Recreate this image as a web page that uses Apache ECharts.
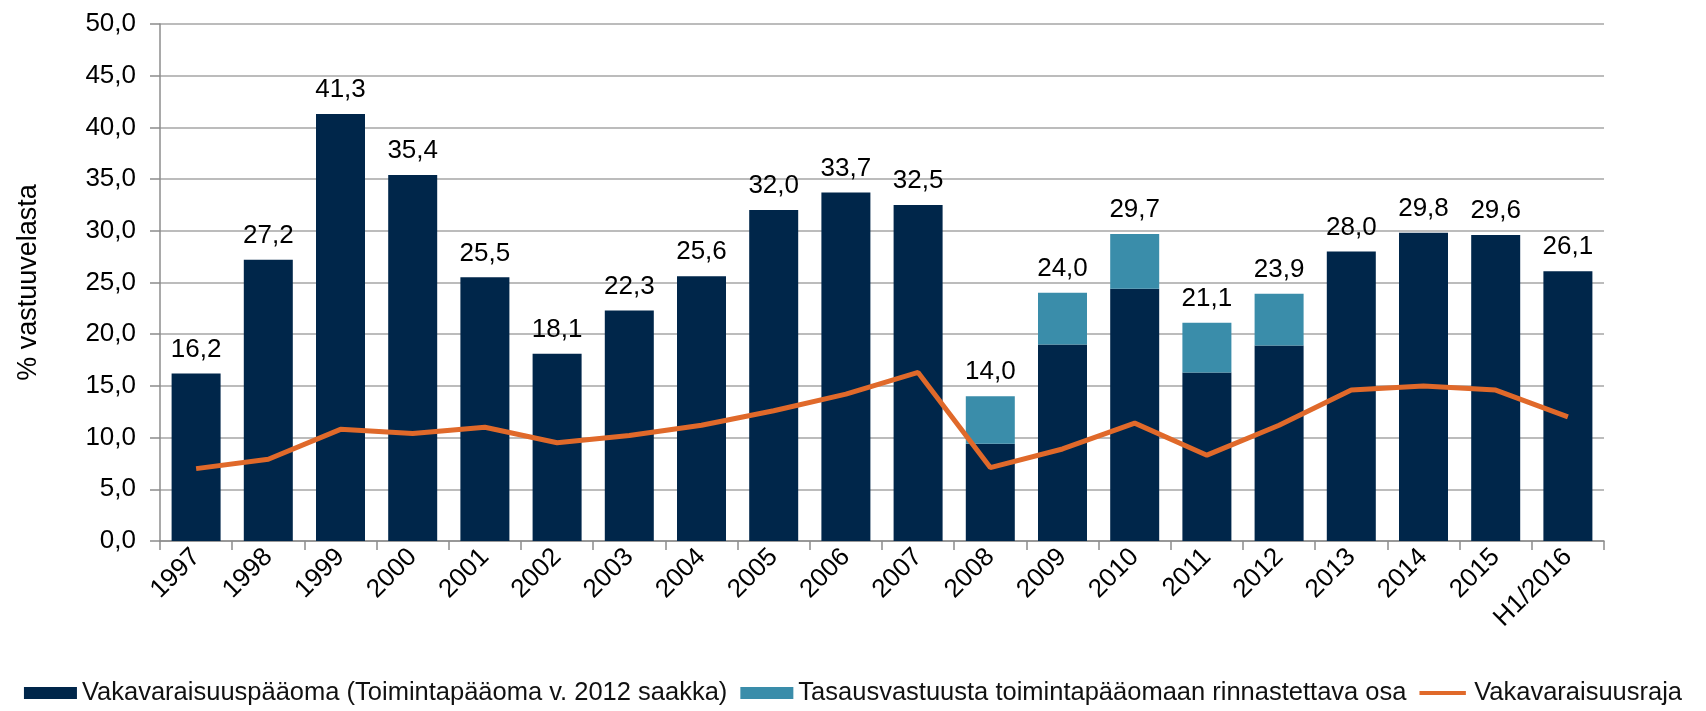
<!DOCTYPE html>
<html>
<head>
<meta charset="utf-8">
<title>Vakavaraisuus</title>
<script src="https://cdn.jsdelivr.net/npm/echarts@6/dist/echarts.min.js"></script>
<style>
  html, body { margin: 0; padding: 0; background: #fff; }
  #chart { width: 1706px; height: 711px; }
</style>
</head>
<body>
<div id="chart"></div>
<script>
// vuodet x-akselille
var years = ['1997', '1998', '1999', '2000', '2001', '2002', '2003', '2004', '2005', '2006',
    '2007', '2008', '2009', '2010', '2011', '2012', '2013', '2014', '2015', 'H1/2016'];

// Vakavaraisuuspääoma (Toimintapääoma v. 2012 saakka), % vastuuvelasta
var capital = [16.2, 27.2, 41.3, 35.4, 25.5, 18.1, 22.3, 25.6, 32.0, 33.7,
    32.5, 9.4, 19.0, 24.4, 16.3, 18.9, 28.0, 29.8, 29.6, 26.1];

// Tasausvastuusta toimintapääomaan rinnastettava osa (vain 2008-2012)
var equalization = [null, null, null, null, null, null, null, null, null, null,
    null, 4.6, 5.0, 5.3, 4.8, 5.0, null, null, null, null];

// Vakavaraisuusraja
var limit = [7.0, 7.9, 10.8, 10.4, 11.0, 9.5, 10.2, 11.2, 12.6, 14.2,
    16.3, 7.1, 8.9, 11.4, 8.3, 11.2, 14.6, 15.0, 14.6, 12.0];

var yTicks = { min: 0, max: 50, interval: 5 };

var FONT = "'Liberation Sans', Arial, sans-serif";

// legendan viivaikoni: ohut palkki, nollapinta-alaiset kolmiot pitävät mittasuhteet
var LINE_ICON = 'path://M0,0L1,0L0,0Z M0,5L58,5L58,10L0,10Z M0,15L1,15L0,15Z';

// suomalainen desimaalipilkku
function fiNum(v) {
    return v.toFixed(1).replace('.', ',');
}

var chart = echarts.init(document.getElementById('chart'));

var option = {
    animation: false,
    backgroundColor: '#ffffff',
    textStyle: { fontFamily: FONT },
    grid: { left: 160, right: 102, top: 24, bottom: 170, containLabel: false },
    legend: {
        bottom: 0,
        left: 'center',
        itemWidth: 53,
        itemHeight: 12,
        itemGap: 13,
        textStyle: { fontSize: 25.5, color: '#111', fontFamily: FONT },
        data: [
            { name: 'Vakavaraisuuspääoma (Toimintapääoma v. 2012 saakka)', icon: 'rect' },
            { name: 'Tasausvastuusta toimintapääomaan rinnastettava osa', icon: 'rect' },
            { name: 'Vakavaraisuusraja', icon: LINE_ICON }
        ]
    },
    xAxis: {
        type: 'category',
        data: years,
        axisLine: { lineStyle: { color: '#8c8c8c', width: 1.5 } },
        axisTick: { show: true, length: 9, lineStyle: { color: '#8c8c8c', width: 1.5 } },
        axisLabel: { rotate: 45, fontSize: 26, color: '#000', margin: 12, fontFamily: FONT }
    },
    yAxis: {
        type: 'value',
        min: yTicks.min,
        max: yTicks.max,
        interval: yTicks.interval,
        name: '% vastuuvelasta',
        nameLocation: 'middle',
        nameGap: 118,
        nameTextStyle: { fontSize: 27, color: '#000', fontFamily: FONT },
        axisLine: { show: true, lineStyle: { color: '#8c8c8c', width: 1.5 } },
        axisTick: { show: true, length: 10, lineStyle: { color: '#8c8c8c', width: 1.5 } },
        splitLine: { lineStyle: { color: '#a6a6a6', width: 1.5 } },
        axisLabel: {
            fontSize: 26, color: '#000', margin: 24, fontFamily: FONT,
            formatter: function (v) { return fiNum(v); }
        }
    },
    series: [
        {
            name: 'Vakavaraisuuspääoma (Toimintapääoma v. 2012 saakka)',
            type: 'bar',
            stack: 'total',
            barWidth: 49,
            data: capital,
            itemStyle: { color: '#00264a' },
            label: {
                show: true,
                position: 'top',
                distance: 11,
                fontSize: 26,
                color: '#000',
                fontFamily: FONT,
                // nimike vain jos päällä ei ole tasausvastuuosaa
                formatter: function (p) {
                    return equalization[p.dataIndex] == null ? fiNum(p.value) : '';
                }
            }
        },
        {
            name: 'Tasausvastuusta toimintapääomaan rinnastettava osa',
            type: 'bar',
            stack: 'total',
            barWidth: 49,
            data: equalization,
            itemStyle: { color: '#3a8daa' },
            label: {
                show: true,
                position: 'top',
                distance: 11,
                fontSize: 26,
                color: '#000',
                fontFamily: FONT,
                formatter: function (p) {
                    return fiNum(capital[p.dataIndex] + p.value);
                }
            }
        },
        {
            name: 'Vakavaraisuusraja',
            type: 'line',
            data: limit,
            symbol: 'none',
            z: 5,
            lineStyle: { color: '#e0692a', width: 5 },
            itemStyle: { color: '#e0692a' }
        }
    ]
};

chart.setOption(option);
</script>
</body>
</html>
